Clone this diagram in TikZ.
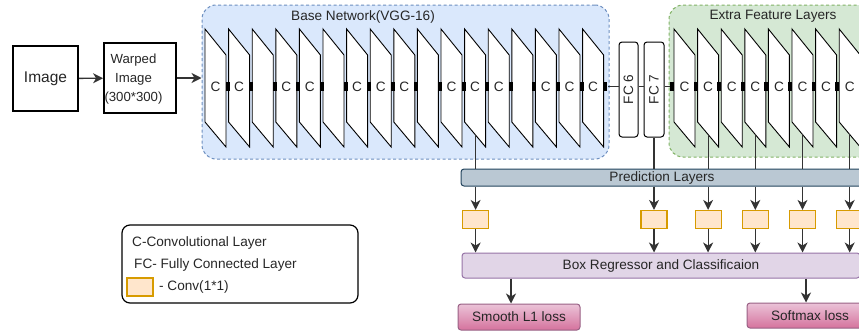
\documentclass[tikz,border=0pt]{standalone}
\usepackage{fontspec}
\setmainfont{Liberation Sans}
\usepackage{xcolor}
\usetikzlibrary{positioning,arrows.meta,shapes}
\definecolor{vggfill}{HTML}{DAE8FC}
\definecolor{vggdraw}{HTML}{6C8EBF}
\definecolor{extfill}{HTML}{D5E8D4}
\definecolor{extdraw}{HTML}{82B366}
\definecolor{predfill}{HTML}{BAC8D3}
\definecolor{preddraw}{HTML}{23445D}
\definecolor{regfill}{HTML}{E1D5E7}
\definecolor{regdraw}{HTML}{9673A6}
\definecolor{onefill}{HTML}{FFE6CC}
\definecolor{onedraw}{HTML}{D79B00}
\definecolor{losstop}{HTML}{EBC3D8}
\definecolor{lossbot}{HTML}{D5739D}
\definecolor{lossdraw}{HTML}{996185}
\tikzset{
conv layer/.style={draw, fill=white, line width=0.9pt},
join mark/.style={fill=black},
group box/.style={rounded corners=14pt, line width=1pt, dash pattern=on 3pt off 2.5pt, inner sep=0pt},
plain box/.style={draw, line width=1.3pt, inner sep=0pt, align=center},
fc box/.style={draw, fill=white, rounded corners=3pt, line width=1pt, minimum width=19pt, minimum height=95pt, inner sep=0pt},
bar/.style={draw, rounded corners=3pt, line width=1pt, inner sep=0pt},
one box/.style={draw=onedraw, fill=onefill, line width=1.2pt, minimum width=26pt, minimum height=18pt, inner sep=0pt},
loss box/.style={draw=lossdraw, top color=losstop, bottom color=lossbot, rounded corners=3pt, line width=1pt, inner sep=0pt},
link/.style={line width=1.1pt, draw=black!80},
arr/.style={link, -{Stealth[length=10pt,width=10pt,inset=3pt]}}
}

\begin{document}
\begin{tikzpicture}[x=1pt, y=-1pt, font=\fontsize{13.6}{16}\selectfont, text=black!85]
\clip (0,0) rectangle (859,332);
\useasboundingbox (0,0) rectangle (859,332);

% groups
\node[group box, draw=vggdraw, fill=vggfill, minimum width=407pt, minimum height=154pt] (vgg) at (405.5,82) {};
\node (vggtitle) at (363,17) {Base Network(VGG-16)};
\node[group box, draw=extdraw, fill=extfill, minimum width=240pt, minimum height=152pt] (extra) at (789,81) {};
\node (extratitle) at (773,16) {Extra Feature Layers};

% input
\node[plain box, line width=2pt, minimum width=65pt, minimum height=65pt, font=\fontsize{15.5}{18}\selectfont] (img) at (45.5,78.5) {Image};
\node[plain box, line width=1.8pt, minimum width=72pt, minimum height=70pt] (warp) at (140,78) {};
\node[align=center, font=\fontsize{13.2}{19}\selectfont] (warptext) at (133.5,79) {Warped\\Image\\(300*300)};
\draw[arr, line width=1.4pt] (img) -- (warp);
\draw[arr, line width=1.4pt] (warp) -- (warp -| vgg.west);

% base network
\foreach \i in {1,...,17}{
\pgfmathsetmacro{\xo}{205+23.6*(\i-1)}
\draw[conv layer] (\xo,29) -- ++(21,26) -- ++(0,92) -- ++(-21,-25) -- cycle;
\coordinate (vgg\i) at (\xo+11,135);
}
\foreach \i in {1,...,17}
\fill[join mark] ({205+23.6*(\i-1)+20.5},82) rectangle ++(4,9);
\foreach \i in {1,2,4,5,7,8,9,11,12,13,15,16,17}
\node (c\i) at ({205+23.6*(\i-1)+10.5},87) {C};

% extra layers
\foreach \i in {1,...,8}{
\pgfmathsetmacro{\xo}{674+23.6*(\i-1)}
\draw[conv layer] (\xo,29) -- ++(21,26) -- ++(0,92) -- ++(-21,-25) -- cycle;
\node (e\i) at (\xo+10.5,87) {C};
\coordinate (ext\i) at (\xo+10.5,134);
}
\foreach \i in {1,...,8}
\fill[join mark] ({674+23.6*(\i-1)-4},82) rectangle ++(4,9);

% fully connected
\node[fc box] (fc6) at (628.5,89.5) {\rotatebox{90}{FC 6}};
\node[fc box, minimum width=20pt] (fc7) at (654,89.5) {\rotatebox{90}{FC 7}};
\coordinate (vggout) at (608,86.5);
\coordinate (extin) at (670,86.5);
\draw[link] (vggout) -- (vggout -| fc6.west);
\draw[link] (fc6.east |- vggout) -- (fc7.west |- vggout);
\draw[link] (fc7.east |- vggout) -- (extin);

% prediction
\node[bar, draw=preddraw, fill=predfill, minimum width=402pt, minimum height=17pt] (pred) at (662,177.5) {Prediction Layers};
\node[bar, draw=regdraw, fill=regfill, minimum width=398pt, minimum height=25pt] (reg) at (661,265.5) {Box Regressor and Classificaion};
\coordinate (orow) at (0,219.5);
\foreach \src [count=\k] in {vgg12,fc7.south,ext2,ext4,ext6,ext8}{
\draw[link] (\src) -- (\src |- pred.north);
\node[one box] (one\k) at (\src |- orow) {};
\draw[arr] (\src |- pred.south) -- (one\k);
\draw[arr] (one\k) -- (one\k |- reg.north);
}

% losses
\node[loss box, minimum width=122pt, minimum height=26pt] (l1loss) at (519,317) {Smooth L1 loss};
\node[loss box, minimum width=126pt, minimum height=25pt] (smloss) at (810,315.5) {Softmax loss};
\draw[arr] ([xshift=-8pt]l1loss.north |- reg.south) -- ([xshift=-8pt]l1loss.north);
\draw[arr] ([xshift=-4pt]smloss.north |- reg.south) -- ([xshift=-4pt]smloss.north);

% legend
\node[draw, rounded corners=8pt, line width=1.2pt, minimum width=236pt, minimum height=78pt] (legend) at (240,264) {};
\node[anchor=west, inner sep=0pt] (lgc) at (132,243) {C-Convolutional Layer};
\node[anchor=west, inner sep=0pt] (lgfc) at (134,265) {FC- Fully Connected Layer};
\node[one box] (lgone) at (140,287) {};
\node[anchor=west, inner sep=0pt] (lgtxt) at (159,287) {- Conv(1*1)};
\end{tikzpicture}
\end{document}
